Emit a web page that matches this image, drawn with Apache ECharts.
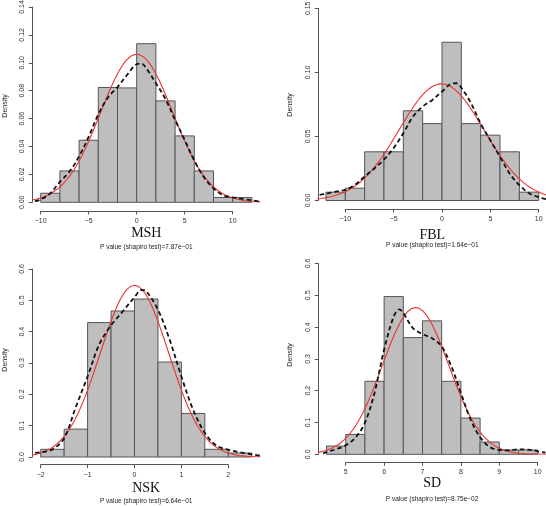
<!DOCTYPE html>
<html>
<head>
<meta charset="utf-8">
<script src="https://cdn.jsdelivr.net/npm/echarts@6/dist/echarts.min.js"></script>
<style>
html, body { margin: 0; padding: 0; background: #fff; }
#main { width: 546px; height: 506px; }
</style>
</head>
<body>
<div id="main"></div>
<script>
// ---- data ----
// MSH
var mshBreaks = [-10, -8, -6, -4, -2, 0, 2, 4, 6, 8, 10, 12];
var mshDensity = [0.0065, 0.0225, 0.0445, 0.0823, 0.082, 0.1137, 0.0727, 0.0476, 0.0225, 0.0034, 0.0034];
var mshKdeX = [-10.6, -10, -9, -8, -7, -6, -5, -4, -3, -2, -1, 0, 0.5, 1, 2, 3, 4, 5, 6, 7, 8, 9, 10, 11, 12, 12.9];
var mshKdeY = [0.0008, 0.002, 0.0064, 0.0147, 0.022, 0.033, 0.047, 0.063, 0.075, 0.0826, 0.0914, 0.099, 0.0995, 0.096, 0.0854, 0.074, 0.059, 0.0447, 0.030, 0.018, 0.010, 0.005, 0.0036, 0.0024, 0.0014, 0.0005];
var mshNormal = [0, 3.76];        // mean, sd of the fitted normal
var mshXTicks = [-10, 10, 5];     // min, max, step
var mshYTicks = [0, 0.14, 0.02];
var mshPValue = '7.87e-01';

// FBL
var fblBreaks = [-12, -10, -8, -6, -4, -2, 0, 2, 4, 6, 8, 10];
var fblDensity = [0.0065, 0.0096, 0.038, 0.038, 0.070, 0.060, 0.1235, 0.060, 0.051, 0.038, 0.0065];
var fblKdeX = [-12.65, -12, -11, -10, -9, -8, -7, -6, -5, -4, -3, -2, -1, 0, 1, 1.5, 2, 3, 4, 5, 6, 7, 8, 9, 10, 10.8];
var fblKdeY = [0.0044, 0.0052, 0.007, 0.0083, 0.0122, 0.0187, 0.025, 0.032, 0.041, 0.0525, 0.0655, 0.0733, 0.0785, 0.085, 0.0912, 0.0915, 0.088, 0.076, 0.060, 0.047, 0.034, 0.021, 0.012, 0.0057, 0.0026, 0.001];
var fblNormal = [-0.05, 4.38];
var fblXTicks = [-10, 10, 5];
var fblYTicks = [0, 0.15, 0.05];
var fblPValue = '1.64e-01';

// NSK
var nskBreaks = [-2, -1.5, -1, -0.5, 0, 0.5, 1, 1.5, 2, 2.5];
var nskDensity = [0.0245, 0.089, 0.429, 0.466, 0.504, 0.303, 0.139, 0.0245, 0.0128];
var nskKdeX = [-2.12, -2, -1.75, -1.5, -1.25, -1, -0.75, -0.5, -0.25, 0, 0.15, 0.25, 0.5, 0.75, 1, 1.25, 1.5, 1.75, 2, 2.25, 2.5, 2.68];
var nskKdeY = [0.013, 0.015, 0.024, 0.06, 0.16, 0.257, 0.36, 0.42, 0.465, 0.51, 0.533, 0.529, 0.47, 0.374, 0.257, 0.151, 0.077, 0.036, 0.023, 0.015, 0.0085, 0.004];
var nskNormal = [0, 0.728];
var nskXTicks = [-2, 2, 1];
var nskYTicks = [0, 0.6, 0.1];
var nskPValue = '6.64e-01';

// SD
var sdBreaks = [4.5, 5, 5.5, 6, 6.5, 7, 7.5, 8, 8.5, 9, 9.5, 10];
var sdDensity = [0.026, 0.0626, 0.2296, 0.496, 0.367, 0.4196, 0.2296, 0.114, 0.0386, 0.0136, 0.0136];
var sdKdeX = [4.41, 4.5, 4.75, 5, 5.25, 5.5, 5.75, 6, 6.25, 6.4, 6.5, 6.75, 7, 7.25, 7.5, 7.75, 8, 8.25, 8.5, 8.75, 9, 9.25, 9.5, 9.75, 10, 10.2];
var sdKdeY = [0.003, 0.007, 0.016, 0.028, 0.052, 0.099, 0.193, 0.329, 0.433, 0.456, 0.444, 0.397, 0.378, 0.365, 0.339, 0.277, 0.193, 0.110, 0.054, 0.023, 0.0136, 0.0125, 0.0157, 0.0146, 0.0094, 0.005];
var sdNormal = [6.82, 0.864];
var sdXTicks = [5, 10, 1];
var sdYTicks = [0, 0.6, 0.1];
var sdPValue = '8.75e-02';

var panels = [
    { name: 'MSH', breaks: mshBreaks, dens: mshDensity, kx: mshKdeX, ky: mshKdeY, norm: mshNormal, xt: mshXTicks, yt: mshYTicks, p: mshPValue, dec: 2 },
    { name: 'FBL', breaks: fblBreaks, dens: fblDensity, kx: fblKdeX, ky: fblKdeY, norm: fblNormal, xt: fblXTicks, yt: fblYTicks, p: fblPValue, dec: 2 },
    { name: 'NSK', breaks: nskBreaks, dens: nskDensity, kx: nskKdeX, ky: nskKdeY, norm: nskNormal, xt: nskXTicks, yt: nskYTicks, p: nskPValue, dec: 1 },
    { name: 'SD',  breaks: sdBreaks,  dens: sdDensity,  kx: sdKdeX,  ky: sdKdeY,  norm: sdNormal,  xt: sdXTicks,  yt: sdYTicks,  p: sdPValue,  dec: 1 }
];

// ---- layout (pixels) ----
// px0/px1: pixel of first/last x tick, py0/py1: pixel of y=0 / top y tick
// axX/axY: where the R style detached axes sit
var layout = [
    { px0: 40.7,  px1: 232.7, py0: 202.3, py1: 7,     axX: 32.3,  axY: 211,   titleY: 233, pY: 247,   densX: 5,   densY: 106 },
    { px0: 345.3, px1: 538.7, py0: 200.5, py1: 8.3,   axX: 318.3, axY: 209,   titleY: 235, pY: 245.5, densX: 290, densY: 105 },
    { px0: 40.7,  px1: 228.3, py0: 457,   py1: 269,   axX: 32.3,  axY: 464.7, titleY: 488, pY: 501,   densX: 5,   densY: 360 },
    { px0: 345.7, px1: 537.7, py0: 454.3, py1: 263.5, axX: 318.3, axY: 462.3, titleY: 483, pY: 499,   densX: 290, densY: 355 }
];

var labelFont = { fontFamily: 'Liberation Sans', fontSize: 7, color: '#333' };
function minus(s) { return String(s).replace(/-/g, '\u2212'); }

var grid = [], xAxis = [], yAxis = [], series = [], graphic = [];

panels.forEach(function (pn, i) {
    var L = layout[i];
    var s = (L.px1 - L.px0) / (pn.xt[1] - pn.xt[0]);
    var b0 = pn.breaks[0], b1 = pn.breaks[pn.breaks.length - 1];
    var ext = (b1 - b0) * 0.04;
    var xmin = b0 - ext, xmax = b1 + ext;
    var left = L.px0 - (pn.xt[0] - xmin) * s;
    var width = (xmax - xmin) * s;
    var g = grid.length;

    // plotting region
    grid.push({ left: left, top: L.py1, width: width, height: L.py0 - L.py1, outerBoundsMode: 'none' });
    xAxis.push({ gridIndex: g, type: 'value', min: xmin, max: xmax, show: false });
    yAxis.push({ gridIndex: g, type: 'value', min: pn.yt[0], max: pn.yt[1], show: false });

    // detached x axis (tick range only)
    grid.push({ left: L.px0, top: L.axY - 20, width: L.px1 - L.px0, height: 20, outerBoundsMode: 'none' });
    xAxis.push({
        gridIndex: g + 1, type: 'value', position: 'bottom',
        min: pn.xt[0], max: pn.xt[1], interval: pn.xt[2],
        axisLine: { show: true, lineStyle: { color: '#555', width: 1 } },
        axisTick: { show: true, length: 3.5, lineStyle: { color: '#555' } },
        axisLabel: Object.assign({ margin: 6.5, formatter: function (v) { return minus(v); } }, labelFont),
        splitLine: { show: false }
    });
    yAxis.push({ gridIndex: g + 1, type: 'value', show: false });

    // detached y axis
    grid.push({ left: L.axX, top: L.py1, width: 20, height: L.py0 - L.py1, outerBoundsMode: 'none' });
    xAxis.push({ gridIndex: g + 2, type: 'value', show: false });
    yAxis.push({
        gridIndex: g + 2, type: 'value', position: 'left',
        min: pn.yt[0], max: pn.yt[1], interval: pn.yt[2],
        axisLine: { show: true, lineStyle: { color: '#555', width: 1 } },
        axisTick: { show: true, length: 3.5, lineStyle: { color: '#555' } },
        axisLabel: Object.assign({ margin: 6.5, rotate: 90, formatter: function (v) { return v.toFixed(pn.dec); } }, labelFont),
        splitLine: { show: false }
    });

    // histogram bars
    var bars = pn.dens.map(function (d, k) { return [pn.breaks[k], pn.breaks[k + 1], d]; });
    series.push({
        type: 'custom', xAxisIndex: g, yAxisIndex: g, data: bars, silent: true,
        encode: { x: [0, 1], y: 2 },
        renderItem: function (params, api) {
            var p0 = api.coord([api.value(0), 0]);
            var p1 = api.coord([api.value(1), api.value(2)]);
            return {
                type: 'rect',
                shape: { x: p0[0], y: p1[1], width: p1[0] - p0[0], height: p0[1] - p1[1] },
                style: { fill: '#bebebe', stroke: '#555', lineWidth: 1 }
            };
        }
    });

    // fitted normal curve (from the mean / sd)
    var nrm = [];
    for (var k = 0; k <= 120; k++) {
        var x = xmin + (xmax - xmin) * k / 120;
        var z = (x - pn.norm[0]) / pn.norm[1];
        nrm.push([x, Math.exp(-0.5 * z * z) / (pn.norm[1] * Math.sqrt(2 * Math.PI))]);
    }
    series.push({
        type: 'line', xAxisIndex: g, yAxisIndex: g, data: nrm, showSymbol: false, silent: true,
        lineStyle: { color: '#ee3030', width: 1.1 }, z: 3
    });

    // kernel density (dashed)
    series.push({
        type: 'line', xAxisIndex: g, yAxisIndex: g, smooth: 0.35, showSymbol: false, silent: true,
        data: pn.kx.map(function (x, k) { return [x, pn.ky[k]]; }),
        lineStyle: { color: '#111', width: 1.8, type: [4.5, 3] }, z: 4
    });

    var cx = left + width / 2;
    graphic.push({
        type: 'text', x: cx, y: L.titleY,
        style: { text: pn.name, textAlign: 'center', textVerticalAlign: 'middle', font: '14px "Liberation Serif"', fill: '#111' }
    });
    graphic.push({
        type: 'text', x: cx, y: L.pY,
        style: { text: minus('P value (shapiro test)=' + pn.p), textAlign: 'center', textVerticalAlign: 'middle', font: '6.5px "Liberation Sans"', fill: '#222' }
    });
    graphic.push({
        type: 'text', x: L.densX, y: L.densY, rotation: Math.PI / 2,
        style: { text: 'Density', textAlign: 'center', textVerticalAlign: 'middle', font: '7px "Liberation Sans"', fill: '#222' }
    });
});

var chart = echarts.init(document.getElementById('main'));
chart.setOption({
    animation: false,
    backgroundColor: '#fff',
    grid: grid,
    xAxis: xAxis,
    yAxis: yAxis,
    series: series,
    graphic: graphic
});
window.addEventListener('resize', function () { chart.resize(); });
</script>
</body>
</html>
